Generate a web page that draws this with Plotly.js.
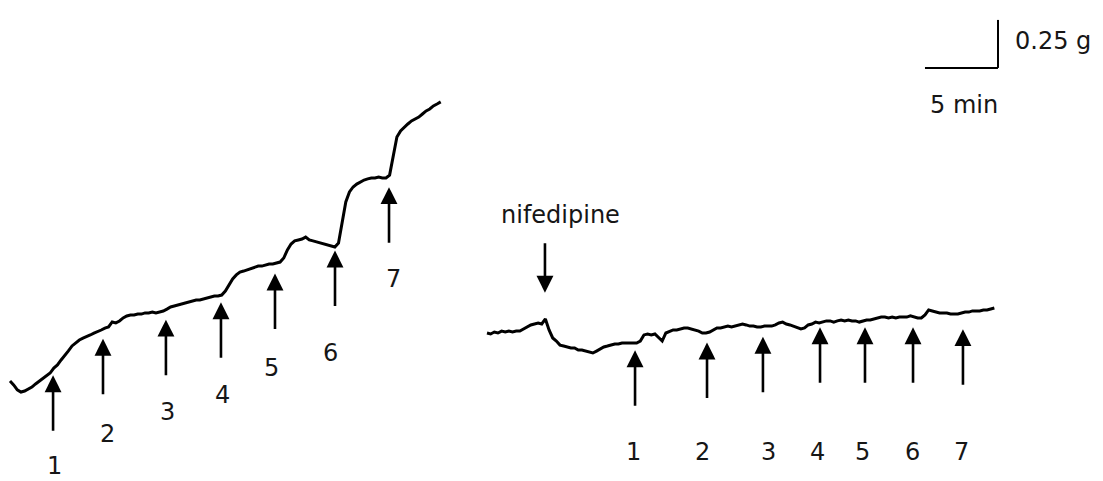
<!DOCTYPE html>
<html>
<head>
<meta charset="utf-8">
<script src="https://cdn.plot.ly/plotly-3.0.1.min.js"></script>
<style>html,body{margin:0;padding:0;background:#fff;}#chart{width:1103px;height:481px;}</style>
</head>
<body>
<div id="chart"></div>
<script>
// ---------------- DATA (read from the recording) ----------------
var SAMPLE_MIN = 0.25;

// Left trace: tension change (g) relative to start, one value every 0.25 min
var leftTension = [0.010,-0.010,-0.036,-0.047,-0.042,-0.031,-0.021,-0.005,0.010,0.021,
  0.036,0.052,0.078,0.094,0.120,0.141,0.167,0.193,0.208,0.224,
  0.234,0.240,0.250,0.260,0.266,0.276,0.286,0.292,0.318,0.313,
  0.323,0.339,0.349,0.354,0.354,0.359,0.359,0.365,0.365,0.370,
  0.365,0.370,0.375,0.385,0.396,0.401,0.406,0.411,0.417,0.422,
  0.427,0.432,0.432,0.438,0.443,0.448,0.453,0.453,0.458,0.479,
  0.510,0.542,0.563,0.578,0.583,0.589,0.594,0.604,0.609,0.609,
  0.615,0.620,0.620,0.625,0.630,0.651,0.693,0.724,0.740,0.745,
  0.750,0.760,0.745,0.740,0.734,0.729,0.724,0.719,0.714,0.708,
  0.729,0.839,0.943,0.995,1.021,1.036,1.047,1.057,1.063,1.068,
  1.068,1.073,1.068,1.068,1.083,1.188,1.281,1.313,1.333,1.349,
  1.365,1.375,1.385,1.401,1.417,1.427,1.443,1.453,1.464];
// Left: times of additions 1..7 (min) and tension level where each arrow points (g)
var leftDoseTime = [2.95, 6.37, 10.68, 14.45, 18.15, 22.26, 25.96];
var leftDoseLevel = [0.04, 0.23, 0.33, 0.42, 0.57, 0.69, 1.02];
var leftDoseLabels = ["1","2","3","4","5","6","7"];

// Right trace (with nifedipine): tension change (g) relative to start, every 0.25 min
var rightTension = [0,-0.005,0.005,0,0.010,0.005,0.010,0.005,0.010,0.010,
  0.021,0.031,0.042,0.047,0.052,0.047,0.073,0.016,-0.026,-0.042,
  -0.063,-0.068,-0.073,-0.078,-0.078,-0.089,-0.089,-0.094,-0.099,-0.104,
  -0.094,-0.083,-0.073,-0.068,-0.063,-0.057,-0.057,-0.052,-0.052,-0.052,
  -0.052,-0.052,-0.042,-0.010,-0.005,-0.010,-0.005,-0.021,-0.042,0,
  0.010,0.016,0.016,0.021,0.026,0.026,0.021,0.016,0.010,0,
  0,0.005,0.016,0.026,0.026,0.031,0.036,0.031,0.036,0.042,
  0.047,0.042,0.036,0.036,0.031,0.031,0.036,0.036,0.036,0.042,
  0.052,0.057,0.047,0.042,0.036,0.026,0.021,0.026,0.042,0.047,
  0.057,0.052,0.057,0.063,0.063,0.057,0.063,0.068,0.063,0.068,
  0.063,0.063,0.057,0.063,0.068,0.068,0.073,0.078,0.083,0.083,
  0.078,0.083,0.078,0.083,0.083,0.083,0.089,0.083,0.078,0.078,
  0.094,0.120,0.115,0.109,0.104,0.104,0.104,0.099,0.099,0.099,
  0.104,0.109,0.109,0.115,0.115,0.115,0.120,0.120,0.125,0.130];
var nifedipineTime = 3.97;
var nifedipineLevel = 0.21;
var rightDoseTime = [10.14, 15.07, 18.90, 22.81, 25.89, 29.18, 32.60];
var rightDoseLevel = [-0.09, -0.05, -0.02, 0.03, 0.03, 0.03, 0.02];
var rightDoseLabels = ["1","2","3","4","5","6","7"];
var rightLabelLevel = -0.62;

// Scale bar
var scaleMin = 5;      // min
var scaleG = 0.25;     // g
var scaleTime = 67.67; // position of bar corner on left time axis
var scaleLevel = 1.641;

// ---------------- LAYOUT / STYLE ----------------
var W = 1103, H = 481;
var PX_PER_MIN = 14.6, PX_PER_G = 192;
var FONT = {family: "DejaVu Sans, Arial, sans-serif", size: 24, color: "#161616"};
var ARROW_LEN = 57;
var leftLabelDx = [1, 4, 2, 2, -3, -5, 4];
var leftLabelDy = [91, 95, 92, 93, 94, 102, 92];
var rightLabelDx = [-2, -5, 6, -3, -2, -1, -1];

function times(arr) { return arr.map(function (_, i) { return i * SAMPLE_MIN; }); }

var traces = [
  {x: times(leftTension), y: leftTension, xaxis: "x", yaxis: "y", type: "scatter", mode: "lines",
   line: {color: "#000", width: 3}, hoverinfo: "skip"},
  {x: times(rightTension), y: rightTension, xaxis: "x2", yaxis: "y2", type: "scatter", mode: "lines",
   line: {color: "#000", width: 3}, hoverinfo: "skip"}
];

var ann = [];
function arrowAnn(xr, yr, x, y, ay) {
  return {xref: xr, yref: yr, x: x, y: y, text: "", showarrow: true, ax: 0, ay: ay,
          arrowhead: 2, arrowsize: 1.3, arrowwidth: 2.6, arrowcolor: "#000", standoff: 0, startstandoff: 0};
}
leftDoseTime.forEach(function (t, i) {
  ann.push(arrowAnn("x", "y", t, leftDoseLevel[i], ARROW_LEN));
  ann.push({xref: "x", yref: "y", x: t, y: leftDoseLevel[i], text: leftDoseLabels[i], showarrow: false,
            xshift: leftLabelDx[i], yshift: -leftLabelDy[i], font: FONT});
});
rightDoseTime.forEach(function (t, i) {
  ann.push(arrowAnn("x2", "y2", t, rightDoseLevel[i], ARROW_LEN));
  ann.push({xref: "x2", yref: "y2", x: t, y: rightLabelLevel, text: rightDoseLabels[i], showarrow: false,
            xshift: rightLabelDx[i], font: FONT});
});
ann.push(arrowAnn("x2", "y2", nifedipineTime, nifedipineLevel, -51));
ann.push({xref: "x2", yref: "y2", x: nifedipineTime, y: nifedipineLevel, text: "nifedipine", showarrow: false,
          xshift: 16, yshift: 78, font: FONT});
// scale bar labels
ann.push({xref: "x", yref: "y", x: scaleTime, y: scaleLevel + scaleG / 2, text: "0.25 g", showarrow: false,
          xanchor: "left", xshift: 15, yshift: 3, font: FONT});
ann.push({xref: "x", yref: "y", x: scaleTime - scaleMin / 2, y: scaleLevel, text: "5 min", showarrow: false,
          xshift: 3, yshift: -37, font: FONT});

var shapes = [
  {type: "line", xref: "x", yref: "y", x0: scaleTime - scaleMin, x1: scaleTime, y0: scaleLevel, y1: scaleLevel,
   line: {color: "#000", width: 2}},
  {type: "line", xref: "x", yref: "y", x0: scaleTime, x1: scaleTime, y0: scaleLevel, y1: scaleLevel + scaleG,
   line: {color: "#000", width: 2}}
];

// left panel origin at pixel (10, 383); right panel origin at pixel (487, 333)
var LX0 = 10, LY0 = 383, RX0 = 487, RY0 = 333;
var layout = {
  width: W, height: H, margin: {l: 0, r: 0, t: 0, b: 0, pad: 0},
  paper_bgcolor: "#fff", plot_bgcolor: "#fff", showlegend: false,
  xaxis: {range: [-LX0 / PX_PER_MIN, (W - LX0) / PX_PER_MIN], visible: false, fixedrange: true},
  yaxis: {range: [-(H - LY0) / PX_PER_G, LY0 / PX_PER_G], visible: false, fixedrange: true},
  xaxis2: {range: [-RX0 / PX_PER_MIN, (W - RX0) / PX_PER_MIN], overlaying: "x", visible: false, fixedrange: true},
  yaxis2: {range: [-(H - RY0) / PX_PER_G, RY0 / PX_PER_G], overlaying: "y", visible: false, fixedrange: true},
  annotations: ann, shapes: shapes, font: FONT
};
Plotly.newPlot("chart", traces, layout, {staticPlot: true, displayModeBar: false});
</script>
</body>
</html>
